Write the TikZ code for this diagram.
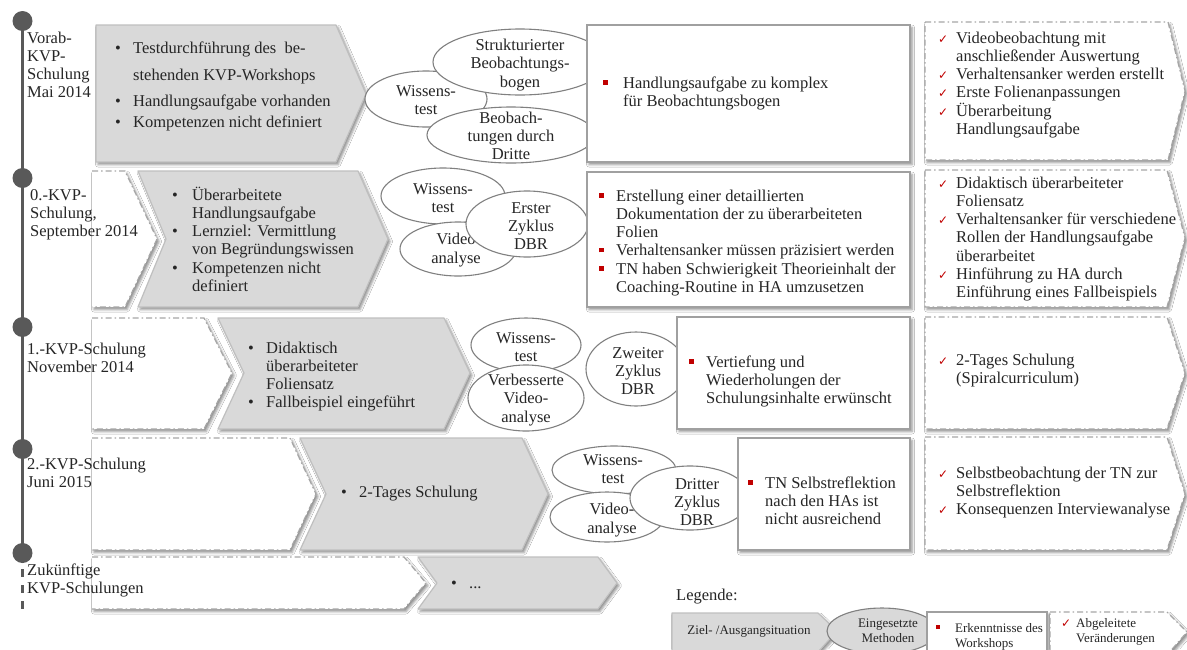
\documentclass[tikz,border=0pt]{standalone}
\usepackage{fontspec}
\setmainfont{Liberation Serif}
\newfontfamily\symfont{DejaVu Sans}
\usetikzlibrary{shadows.blur}

\definecolor{chev}{HTML}{D9D9D9}
\definecolor{chevline}{HTML}{BFBFBF}
\definecolor{ellc}{HTML}{808080}
\definecolor{boxc}{HTML}{A0A0A0}
\definecolor{dashc}{HTML}{A6A6A6}
\definecolor{mark}{HTML}{C00000}
\definecolor{ink}{HTML}{262626}
\definecolor{axisc}{HTML}{595959}

% first-line strut: baseline sits 15pt below the node's top
\newcommand\fl{\rule{0pt}{15pt}}
\newcommand\redsq{\textcolor{mark}{\rule[3.5pt]{4.5pt}{4.5pt}}}
\newcommand\chk{{\symfont\fontsize{12}{12}\selectfont\textcolor{mark}{✓}}}
\newcommand\gbul[1]{\makebox[#1][l]{\textbullet}}
\newcommand\rbul[1]{\makebox[#1][l]{\redsq}}
\newcommand\cbul{\makebox[18pt][l]{\chk}}
\newcommand\ind[1]{\hspace*{#1}}

\begin{document}
\begin{tikzpicture}[x=1pt,y=-1pt,
  txt/.style={font=\fontsize{16.5}{18.2}\selectfont, text=ink, inner sep=0pt, align=left, anchor=north west},
  ctxt/.style={font=\fontsize{16.5}{18.2}\selectfont, text=ink, inner sep=0pt, align=center},
  legtxt/.style={font=\fontsize{13}{15}\selectfont, text=ink, inner sep=0pt, align=left},
  softshadow/.style={blur shadow={shadow xshift=2pt, shadow yshift=-2.5pt, shadow blur radius=2.5pt, shadow opacity=45}},
  chevron/.style={softshadow, fill=chev, draw=chevline, line width=1.2pt, line join=round},
  labeltag/.style={softshadow, fill=white},
  dashdot/.style={draw=dashc, line width=1.2pt, dash pattern=on 6pt off 3pt on 1.5pt off 3pt},
  method/.style={fill=white, draw=ellc, line width=1.1pt},
  finding/.style={softshadow, fill=white, draw=boxc, line width=1.2pt},
  change/.style={softshadow, fill=white, dashdot},
  dot/.style={circle, fill=axisc, minimum size=20pt, inner sep=0pt}
]
\useasboundingbox (0,0) rectangle (1187,649);
\fill[white] (0,0) rectangle (1187,649);
\clip (0,0) rectangle (1187,649);

% ---------- time axis ----------
\coordinate (a0) at (22.5,21);
\coordinate (a4) at (22.5,553);
\coordinate (aend) at (22.5,612);
\draw[axisc, line width=3pt] (a0) -- (a4);
\draw[axisc, line width=2.5pt, dash pattern=on 8pt off 8pt] (a4) -- (aend);
\node[dot] (d0) at (22.5,21) {};
\node[dot] (d1) at (22.5,178) {};
\node[dot] (d2) at (22.5,327) {};
\node[dot] (d3) at (22.5,449) {};
\node[dot] (d4) at (22.5,553) {};

% ---------- Vorab-KVP-Schulung ----------
\node[txt] (lab0) at (27,28) {\fl Vorab-\\KVP-\\Schulung\\Mai 2014};
\path[chevron] (96,25) -- (336,25) -- (366,94) -- (336,162) -- (96,162) -- cycle;
\node[txt] (sit0) at (115,38) {\fl\gbul{18pt}Testdurchführung des\ \ be-\\[8.8pt]
  \ind{18pt}stehenden KVP-Workshops\\[7.8pt]
  \gbul{18pt}Handlungsaufgabe vorhanden\\[2.8pt]
  \gbul{18pt}Kompetenzen nicht definiert};
\draw[method] (426,99) ellipse [x radius=61, y radius=28];
\node[ctxt] (m0a) at (426,100) {Wissens-\\test};
\draw[method] (520,62) ellipse [x radius=87, y radius=33];
\node[ctxt] (m0b) at (520,65) {Strukturierter\\Beobachtungs-\\bogen};
\draw[method] (511,135) ellipse [x radius=84, y radius=28];
\node[ctxt] (m0c) at (511,136) {Beobach-\\tungen durch\\Dritte};
\path[finding] (587,25) rectangle (910,162);
\node[txt] (f0) at (603,73) {\fl\rbul{20pt}Handlungsaufgabe zu komplex\\\ind{20pt}für Beobachtungsbogen};
\path[change] (925,22) -- (1168,22) -- (1185,91) -- (1168,160) -- (925,160) -- cycle;
\node[txt] (c0) at (938,28) {\fl\cbul Videobeobachtung mit\\\ind{18pt}anschließender Auswertung\\
  \cbul Verhaltensanker werden erstellt\\\cbul Erste Folienanpassungen\\
  \cbul Überarbeitung\\\ind{18pt}Handlungsaufgabe};

% ---------- 0.-KVP-Schulung ----------
\path[labeltag] (92,171) -- (125,171) -- (157,239) -- (125,307) -- (92,307) -- cycle;
\draw[dashdot] (92,171) -- (125,171) -- (157,239) -- (125,307) -- (92,307);
\node[txt] (lab1) at (30,185) {\fl 0.-KVP-\\Schulung,\\September 2014};
\path[chevron] (138,171) -- (358,171) -- (388,239) -- (358,307) -- (138,307) -- (166,239) -- cycle;
\node[txt] (sit1) at (172,185) {\fl\gbul{20pt}Überarbeitete\\\ind{20pt}Handlungsaufgabe\\
  \gbul{20pt}Lernziel: Vermittlung\\\ind{20pt}von Begründungswissen\\
  \gbul{20pt}Kompetenzen nicht\\\ind{20pt}definiert};
\draw[method] (443,196) ellipse [x radius=62, y radius=28];
\node[ctxt] (m1a) at (443,198) {Wissens-\\test};
\draw[method] (458,249) ellipse [x radius=58, y radius=27];
\node[ctxt] (m1b) at (456,250) {Video\\analyse};
\draw[method] (527,224) ellipse [x radius=61, y radius=33];
\node[ctxt] (m1c) at (531,226) {Erster\\Zyklus\\DBR};
\path[finding] (587,172) rectangle (910,307);
\node[txt] (f1) at (599,186) {\fl\rbul{17pt}Erstellung einer detaillierten\\
  \ind{17pt}Dokumentation der zu überarbeiteten\\\ind{17pt}Folien\\
  \rbul{17pt}Verhaltensanker müssen präzisiert werden\\
  \rbul{17pt}TN haben Schwierigkeit Theorieinhalt der\\\ind{17pt}Coaching-Routine in HA umzusetzen};
\path[change] (925,170) -- (1167,170) -- (1185,238) -- (1167,307) -- (925,307) -- cycle;
\node[txt] (c1) at (938,173) {\fl\cbul Didaktisch überarbeiteter\\\ind{18pt}Foliensatz\\
  \cbul Verhaltensanker für verschiedene\\\ind{18pt}Rollen der Handlungsaufgabe\\\ind{18pt}überarbeitet\\
  \cbul Hinführung zu HA durch\\\ind{18pt}Einführung eines Fallbeispiels};

% ---------- 1.-KVP-Schulung ----------
\path[labeltag] (92,318) -- (204,318) -- (232,373) -- (204,429) -- (92,429) -- cycle;
\draw[dashdot] (92,318) -- (204,318) -- (232,373) -- (204,429) -- (92,429);
\node[txt] (lab2) at (27,339) {\fl 1.-KVP-Schulung\\November 2014};
\path[chevron] (218,318) -- (444,318) -- (470,373) -- (444,429) -- (218,429) -- (244,373) -- cycle;
\node[txt] (sit2) at (248,338) {\fl\gbul{18pt}Didaktisch\\\ind{18pt}überarbeiteter\\\ind{18pt}Foliensatz\\
  \gbul{18pt}Fallbeispiel eingeführt};
\draw[method] (526,345) ellipse [x radius=55, y radius=27];
\node[ctxt] (m2a) at (526,347) {Wissens-\\test};
\draw[method] (526,398) ellipse [x radius=58, y radius=33];
\node[ctxt] (m2b) at (526,400) {Verbesserte\\Video-\\analyse};
\draw[method] (636,369) ellipse [x radius=50, y radius=37];
\node[ctxt] (m2c) at (638,371) {Zweiter\\Zyklus\\DBR};
\path[finding] (677,317) rectangle (910,429);
\node[txt] (f2) at (689,352) {\fl\rbul{17pt}Vertiefung und\\\ind{17pt}Wiederholungen der\\\ind{17pt}Schulungsinhalte erwünscht};
\path[change] (925,317) -- (1167,317) -- (1185,373) -- (1167,429) -- (925,429) -- cycle;
\node[txt] (c2) at (938,350) {\fl\cbul 2-Tages Schulung\\\ind{18pt}(Spiralcurriculum)};

% ---------- 2.-KVP-Schulung ----------
\path[labeltag] (92,438) -- (290,438) -- (316,494) -- (290,550) -- (92,550) -- cycle;
\draw[dashdot] (92,438) -- (290,438) -- (316,494) -- (290,550) -- (92,550);
\node[txt] (lab3) at (27,454) {\fl 2.-KVP-Schulung\\Juni 2015};
\path[chevron] (300,438) -- (522,438) -- (548,494) -- (522,550) -- (300,550) -- (326,494) -- cycle;
\node[txt] (sit3) at (341,482) {\fl\gbul{18pt}2-Tages Schulung};
\draw[method] (614,470) ellipse [x radius=62, y radius=24];
\node[ctxt] (m3a) at (613,469) {Wissens-\\test};
\draw[method] (607,517) ellipse [x radius=57, y radius=25];
\node[ctxt] (m3b) at (612,520) {Video-\\analyse};
\draw[method] (690,498) ellipse [x radius=60, y radius=32];
\node[ctxt] (m3c) at (697,502) {Dritter\\Zyklus\\DBR};
\path[finding] (738,438) rectangle (910,550);
\node[txt] (f3) at (748,473) {\fl\rbul{17pt}TN Selbstreflektion\\\ind{17pt}nach den HAs ist\\\ind{17pt}nicht ausreichend};
\path[change] (925,437) -- (1167,437) -- (1185,494) -- (1167,550) -- (925,550) -- cycle;
\node[txt] (c3) at (938,463) {\fl\cbul Selbstbeobachtung der TN zur\\\ind{18pt}Selbstreflektion\\
  \cbul Konsequenzen Interviewanalyse};

% ---------- Zukünftige KVP-Schulungen ----------
\path[labeltag] (92,557) -- (404,557) -- (426,583) -- (404,609) -- (92,609) -- cycle;
\draw[dashdot] (92,557) -- (404,557) -- (426,583) -- (404,609) -- (92,609);
\node[txt] (lab4) at (27,560) {\fl Zukünftige\\KVP-Schulungen};
\path[chevron] (418,557) -- (598,557) -- (617,583) -- (598,609) -- (418,609) -- (437,583) -- cycle;
\node[txt] (sit4) at (451,573) {\fl\gbul{18pt}...};

% ---------- legend ----------
\node[txt] (leg) at (676,585) {\fl Legende:};
\path[chevron] (672,613) -- (818,613) -- (837,631) -- (818,652) -- (672,652) -- cycle;
\node[legtxt] (legA) at (749,631) {Ziel- /Ausgangsituation};
\draw[fill=chev, draw=ellc, line width=1.1pt] (882,631) ellipse [x radius=55, y radius=23];
\node[legtxt, align=center] (legB) at (888,631) {Eingesetzte\\Methoden};
\path[finding] (927,612) rectangle (1047,655);
\node[legtxt, anchor=north west] (legC) at (936,617) {\fl\makebox[19pt][l]{\textcolor{mark}{\rule[3pt]{4pt}{4pt}}}Erkenntnisse des\\\ind{19pt}Workshops};
\path[change] (1050,612) -- (1167,612) -- (1187,632) -- (1167,655) -- (1050,655) -- cycle;
\node[legtxt, anchor=north west] (legD) at (1061,612) {\fl\makebox[15pt][l]{\chk}Abgeleitete\\\ind{15pt}Veränderungen};
\end{tikzpicture}
\end{document}
